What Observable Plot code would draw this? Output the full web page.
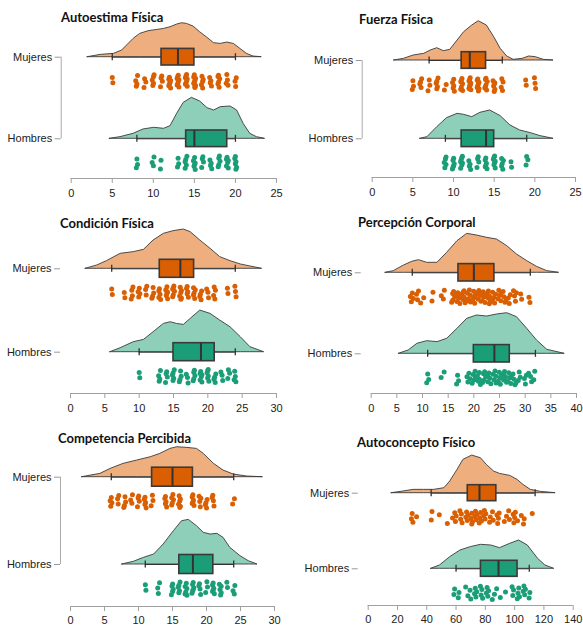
<!DOCTYPE html>
<html><head><meta charset="utf-8">
<script src="https://cdn.jsdelivr.net/npm/d3@7"></script>
<script src="https://cdn.jsdelivr.net/npm/@observablehq/plot@0.6"></script>
<style>
body{margin:0;background:#fff}
#page{position:relative;width:583px;height:626px;overflow:hidden;background:#fff}
.panel{position:absolute}
.panel svg{overflow:visible;background:transparent}
.title{position:absolute;font-family:Lato,sans-serif;font-weight:700;font-size:13px;line-height:13px;color:#111;white-space:nowrap}
</style></head><body><div id="page"></div><script>
// ---------------- DATA ----------------
const groups = ["Mujeres", "Hombres"];
const darkColors = ["#D95F02", "#1B9E77"];
const lightColors = ["#EEAE7E", "#8DCFB9"];

const titles = ["Autoestima Física", "Fuerza Física", "Condición Física", "Percepción Corporal", "Competencia Percibida", "Autoconcepto Físico"];
const xDomains = [[0, 25], [0, 25], [0, 30], [0, 40], [0, 30], [0, 140]];
const xTicks = [
  [0, 5, 10, 15, 20, 25],
  [0, 5, 10, 15, 20, 25],
  [0, 5, 10, 15, 20, 25, 30],
  [0, 5, 10, 15, 20, 25, 30, 35, 40],
  [0, 5, 10, 15, 20, 25, 30],
  [0, 20, 40, 60, 80, 100, 120, 140]
];

// box stats: [lower whisker, Q1, median, Q3, upper whisker]
const boxMujeres = [[5, 11, 13, 15, 20], [7, 11, 12, 14, 16], [6, 13, 16, 18, 24], [8, 17, 20, 24, 31], [6, 12, 15, 18, 24], [43, 68, 76, 87.5, 114]];
const boxHombres = [[8, 14, 15, 19, 20], [9, 11, 14, 15, 19], [10, 15, 19, 21, 24], [11, 20, 24, 27, 32], [11, 16, 18, 21, 24], [60, 77, 89, 102, 110]];

// density profiles (x value, relative height)
const dens1M_x = [2.0, 3.6, 5.2, 6.2, 6.8, 7.6, 8.4, 9.4, 10.5, 11.3, 12.1, 12.9, 13.5, 14.1, 14.9, 15.7, 16.6, 17.4, 18.2, 19.0, 19.8, 20.6, 21.4, 22.2, 23.2];
const dens1M_h = [0, 0.07, 0.10, 0.20, 0.35, 0.55, 0.70, 0.78, 0.82, 0.85, 0.90, 0.98, 1.02, 1.00, 0.92, 0.75, 0.58, 0.42, 0.40, 0.44, 0.40, 0.25, 0.10, 0.02, 0];
const dens1H_x = [4.7, 6.0, 7.6, 8.8, 10.1, 11.3, 12.1, 12.9, 13.7, 14.7, 15.7, 16.6, 17.4, 18.2, 19.4, 20.2, 21.0, 21.8, 22.6, 23.6];
const dens1H_h = [0, 0.05, 0.15, 0.28, 0.33, 0.30, 0.38, 0.75, 1.08, 1.23, 1.12, 0.92, 0.85, 0.95, 0.97, 0.85, 0.45, 0.15, 0.05, 0];

const dens2M_x = [2.7, 3.9, 5.1, 6.4, 7.2, 8.0, 8.8, 9.6, 10.5, 11.3, 12.3, 13.1, 14.1, 15.0, 15.8, 16.6, 17.4, 18.5, 19.3, 20.1, 21.1, 22.3];
const dens2M_h = [0, 0.05, 0.15, 0.20, 0.30, 0.37, 0.28, 0.32, 0.60, 0.85, 1.05, 1.18, 1.05, 0.70, 0.35, 0.12, 0.02, 0.05, 0.12, 0.10, 0.02, 0];
const dens2H_x = [5.9, 6.8, 8.0, 9.2, 10.5, 11.3, 12.3, 13.3, 14.5, 15.8, 17.0, 18.2, 19.5, 20.7, 22.3];
const dens2H_h = [0, 0.05, 0.35, 0.62, 0.75, 0.72, 0.65, 0.78, 0.85, 0.68, 0.40, 0.25, 0.17, 0.08, 0];

const dens3M_x = [2.2, 3.9, 5.3, 7.3, 9.2, 10.7, 12.1, 13.6, 15.0, 16.5, 17.5, 18.9, 20.4, 21.8, 23.3, 24.8, 26.2, 27.9];
const dens3M_h = [0, 0.10, 0.23, 0.45, 0.50, 0.57, 0.85, 1.05, 1.13, 1.18, 1.10, 0.85, 0.60, 0.35, 0.23, 0.13, 0.07, 0];
const dens3H_x = [5.8, 7.3, 9.2, 10.7, 12.1, 13.6, 14.6, 15.5, 16.5, 17.5, 18.9, 20.4, 21.8, 23.3, 24.8, 26.2, 28.2];
const dens3H_h = [0, 0.12, 0.30, 0.37, 0.60, 0.85, 0.90, 0.85, 0.82, 1.00, 1.25, 1.15, 0.95, 0.75, 0.45, 0.15, 0];

const dens4M_x = [2.8, 4.4, 6.4, 8.0, 9.3, 10.9, 12.9, 14.8, 16.8, 18.7, 20.6, 22.6, 24.5, 26.5, 28.4, 30.4, 32.3, 34.3, 36.6];
const dens4M_h = [0, 0.05, 0.22, 0.33, 0.38, 0.30, 0.30, 0.60, 0.95, 1.17, 1.12, 1.05, 1.00, 0.80, 0.55, 0.35, 0.18, 0.05, 0];
const dens4H_x = [5.4, 7.3, 9.0, 10.9, 12.9, 14.8, 16.8, 18.7, 20.6, 22.6, 24.5, 26.5, 28.4, 30.4, 32.3, 34.3, 37.7];
const dens4H_h = [0, 0.10, 0.30, 0.38, 0.35, 0.45, 0.75, 1.05, 1.15, 1.12, 1.18, 1.22, 1.10, 0.75, 0.40, 0.12, 0];

const dens5M_x = [1.7, 4.4, 5.9, 7.8, 9.8, 11.8, 13.2, 14.7, 15.7, 17.2, 18.6, 19.6, 21.1, 22.5, 24.0, 26.0, 28.3];
const dens5M_h = [0, 0.10, 0.25, 0.40, 0.50, 0.60, 0.70, 0.85, 0.90, 0.88, 0.85, 0.70, 0.40, 0.20, 0.08, 0.02, 0];
const dens5H_x = [7.6, 9.3, 10.8, 12.3, 13.7, 15.2, 16.4, 17.4, 18.6, 19.6, 20.6, 21.6, 22.5, 23.5, 25.0, 26.2, 27.5];
const dens5H_h = [0, 0.08, 0.20, 0.30, 0.60, 1.00, 1.30, 1.34, 1.15, 0.95, 0.90, 0.92, 0.80, 0.50, 0.25, 0.10, 0];

const dens6M_x = [16, 24, 31, 38, 45, 52, 56, 61, 65, 71, 77, 81, 86, 90, 97, 102, 106, 111, 118, 128];
const dens6M_h = [0, 0.05, 0.10, 0.10, 0.10, 0.15, 0.35, 0.70, 1.00, 1.13, 1.05, 0.85, 0.65, 0.58, 0.52, 0.40, 0.25, 0.10, 0.04, 0];
const dens6H_x = [43, 49, 56, 63, 70, 77, 84, 90, 97, 103, 109, 116, 121, 127];
const dens6H_h = [0, 0.10, 0.35, 0.55, 0.65, 0.72, 0.70, 0.62, 0.75, 0.85, 0.70, 0.30, 0.10, 0];

// individual scores: value and number of participants with it
const dots1M_v = [5, 8, 9, 10, 11, 12, 13, 14, 15, 16, 17, 18, 19, 20];
const dots1M_n = [2, 4, 3, 5, 4, 7, 8, 8, 9, 5, 4, 6, 4, 3];
const dots1H_v = [8, 10, 11, 13, 14, 15, 16, 17, 18, 19, 20];
const dots1H_n = [3, 3, 2, 3, 5, 6, 4, 4, 5, 6, 6];
const dots2M_v = [5, 6, 7, 8, 9, 10, 11, 12, 13, 14, 15, 16, 19, 20];
const dots2M_n = [3, 4, 3, 5, 2, 5, 7, 9, 8, 7, 6, 4, 2, 3];
const dots2H_v = [9, 10, 11, 12, 13, 14, 15, 16, 17, 19];
const dots2H_n = [5, 6, 7, 4, 4, 6, 7, 5, 2, 3];
const dots3M_v = [6, 8, 9, 10, 11, 12, 13, 14, 15, 16, 17, 18, 19, 20, 21, 23, 24];
const dots3M_n = [2, 2, 4, 4, 3, 4, 5, 6, 6, 6, 5, 5, 4, 3, 4, 2, 3];
const dots3H_v = [10, 13, 14, 15, 16, 17, 18, 19, 20, 21, 22, 23, 24];
const dots3H_n = [2, 4, 4, 5, 4, 3, 5, 6, 6, 4, 3, 3, 4];
const dots4M_v = [8, 9, 10, 12, 14, 16, 17, 18, 19, 20, 21, 22, 23, 24, 25, 26, 27, 28, 29, 31];
const dots4M_n = [4, 3, 2, 2, 3, 5, 6, 6, 6, 6, 6, 5, 6, 5, 5, 4, 3, 4, 2, 2];
const dots4H_v = [11, 14, 17, 19, 20, 21, 22, 23, 24, 25, 26, 27, 28, 29, 30, 31, 32];
const dots4H_n = [3, 2, 3, 4, 5, 5, 5, 5, 5, 5, 6, 6, 4, 3, 3, 3, 2];
const dots5M_v = [6, 7, 8, 9, 10, 11, 12, 14, 15, 16, 18, 19, 20, 21, 24];
const dots5M_n = [4, 3, 4, 3, 4, 5, 3, 5, 5, 6, 6, 4, 4, 4, 2];
const dots5H_v = [11, 13, 15, 16, 17, 18, 19, 20, 21, 22, 23, 24];
const dots5H_n = [2, 3, 5, 5, 6, 6, 4, 3, 6, 5, 2, 3];
const dots6M_v = [29, 30, 31, 34, 43, 43, 49, 55, 57, 59, 60, 61, 62, 63, 64, 65, 66, 67, 68, 69, 70, 70, 71, 72, 72, 73, 74, 75, 75, 76, 77, 78, 78, 79, 80, 81, 82, 83, 85, 86, 87, 88, 89, 90, 92, 94, 96, 97, 98, 99, 100, 101, 103, 104, 106, 107, 113];
const dots6H_v = [58, 59, 62, 63, 66, 68, 70, 71, 72, 73, 74, 75, 76, 77, 78, 79, 80, 81, 82, 83, 84, 86, 88, 91, 93, 98, 99, 100, 101, 102, 103, 104, 105, 106, 107, 108, 109, 110];

// ---------------- LAYOUT (pixels) ----------------
const layouts = [
  {left: 0, top: 0, w: 290, h: 200, x0: 70.7, x1: 276, rows: [56.7, 138.3], axis: 178, pad: 6, tx: 61, tcap: 13.3, bracket: true, jit: 1.2, bh: 8.3},
  {left: 290, top: 0, w: 293, h: 200, x0: 81.7, x1: 285, rows: [60, 138.3], axis: 177, pad: 6, tx: 69, tcap: 15, bracket: true, jit: 1.2, bh: 8.3},
  {left: 0, top: 200, w: 290, h: 214, x0: 70, x1: 276, rows: [68.3, 151.7], axis: 193, pad: 6, tx: 60, tcap: 19.5, bracket: false, jit: 1.2, bh: 9},
  {left: 290, top: 200, w: 293, h: 214, x0: 80.7, x1: 286, rows: [72.3, 153.3], axis: 193, pad: 6, tx: 68, tcap: 18.3, bracket: false, jit: 2, bh: 8.7},
  {left: 0, top: 410, w: 290, h: 216, x0: 70, x1: 274, rows: [66.7, 154], axis: 196, pad: 4.5, tx: 58, tcap: 24, bracket: true, jit: 1.2, bh: 9.5},
  {left: 290, top: 410, w: 293, h: 216, x0: 77.7, x1: 282.7, rows: [82.7, 158.3], axis: 195, pad: 5, tx: 67, tcap: 28.3, bracket: false, jit: 1.5, bh: 8}
];
const HSCALE = 33.3;   // px per relative density unit

const densities = [
  [[dens1M_x, dens1M_h], [dens1H_x, dens1H_h]],
  [[dens2M_x, dens2M_h], [dens2H_x, dens2H_h]],
  [[dens3M_x, dens3M_h], [dens3H_x, dens3H_h]],
  [[dens4M_x, dens4M_h], [dens4H_x, dens4H_h]],
  [[dens5M_x, dens5M_h], [dens5H_x, dens5H_h]],
  [[dens6M_x, dens6M_h], [dens6H_x, dens6H_h]]
];
const dotSets = [
  [[dots1M_v, dots1M_n], [dots1H_v, dots1H_n]],
  [[dots2M_v, dots2M_n], [dots2H_v, dots2H_n]],
  [[dots3M_v, dots3M_n], [dots3H_v, dots3H_n]],
  [[dots4M_v, dots4M_n], [dots4H_v, dots4H_n]],
  [[dots5M_v, dots5M_n], [dots5H_v, dots5H_n]],
  [[dots6M_v, null], [dots6H_v, null]]
];

const page = document.getElementById("page");

layouts.forEach((L, i) => {
  const sp = L.rows[1] - L.rows[0];
  const u = px => px / sp;
  const dom = xDomains[i];
  const pxPerX = (L.x1 - L.x0) / (dom[1] - dom[0]);

  const dens = [];
  densities[i].forEach(([xs, hs], g) => xs.forEach((x, k) => dens.push({g, x, y1: g, y2: g - u(hs[k] * HSCALE)})));

  const boxes = [boxMujeres[i], boxHombres[i]].map((b, g) => ({g, lo: b[0], q1: b[1], med: b[2], q3: b[3], hi: b[4]}));

  const pts = [];
  dotSets[i].forEach(([vs, ns], g) => {
    let k = 0;
    vs.forEach((v, j) => {
      const n = ns ? ns[j] : 1;
      for (let m = 0; m < n; m++) {
        k++;
        const t = (k * 0.6180339887) % 1;
        const s = (k * 0.7548776662) % 1;
        pts.push({g, x: v + (s - 0.5) * 2 * L.jit / pxPerX, y: g + u(17 + t * 14)});
      }
    });
  });

  const marks = [
    Plot.area(dens, {x1: "x", y1: "y1", y2: "y2", z: "g", fill: d => lightColors[d.g], stroke: "#3a3a3a", strokeWidth: 0.9}),
    Plot.ruleY(boxes, {y: "g", x1: "lo", x2: "q1", stroke: "#333", strokeWidth: 1}),
    Plot.ruleY(boxes, {y: "g", x1: "q3", x2: "hi", stroke: "#333", strokeWidth: 1}),
    Plot.ruleX(boxes, {x: "lo", y1: d => d.g - u(3.5), y2: d => d.g + u(3.5), stroke: "#333", strokeWidth: 1.3}),
    Plot.ruleX(boxes, {x: "hi", y1: d => d.g - u(3.5), y2: d => d.g + u(3.5), stroke: "#333", strokeWidth: 1.3}),
    Plot.rect(boxes, {x1: "q1", x2: "q3", y1: d => d.g - u(L.bh), y2: d => d.g + u(L.bh), fill: d => darkColors[d.g], stroke: "#3a3a3a", strokeWidth: 1.6}),
    Plot.ruleX(boxes, {x: "med", y1: d => d.g - u(L.bh), y2: d => d.g + u(L.bh), stroke: "#333", strokeWidth: 2}),
    Plot.dot(pts, {x: "x", y: "y", r: 2.5, fill: d => darkColors[d.g], stroke: null}),
    Plot.ruleY([u(L.axis - L.rows[0])], {x1: dom[0], x2: dom[1], stroke: "#a0a0a0", strokeWidth: 1}),
    Plot.axisX({ticks: xTicks[i], tickSize: 5, tickPadding: L.pad, stroke: "#a0a0a0", fill: "#222", fontSize: 11}),
    Plot.axisY({ticks: [0, 1], tickFormat: v => groups[v], tickSize: 6, tickPadding: 3, dx: -10, stroke: "#999", fill: "#222", fontSize: 11})
  ];
  if (L.bracket) marks.push(Plot.ruleX([dom[0]], {y1: 0, y2: 1, dx: -10, stroke: "#aaa", strokeWidth: 1}));

  const svg = Plot.plot({
    width: L.w, height: L.h,
    marginLeft: L.x0, marginRight: L.w - L.x1, marginTop: 0, marginBottom: L.h - L.axis,
    x: {domain: dom},
    y: {domain: [0, 1], range: L.rows, axis: null},
    style: {fontFamily: "'Liberation Sans', Arial, sans-serif", fontSize: "11px", background: "transparent", overflow: "visible", color: "#222"},
    marks
  });

  const div = document.createElement("div");
  div.className = "panel";
  div.style.left = L.left + "px";
  div.style.top = L.top + "px";
  div.appendChild(svg);
  const t = document.createElement("div");
  t.className = "title";
  t.textContent = titles[i];
  t.style.left = L.tx + "px";
  t.style.top = (L.tcap - 2.1) + "px";
  div.appendChild(t);
  page.appendChild(div);
});
</script></body></html>
